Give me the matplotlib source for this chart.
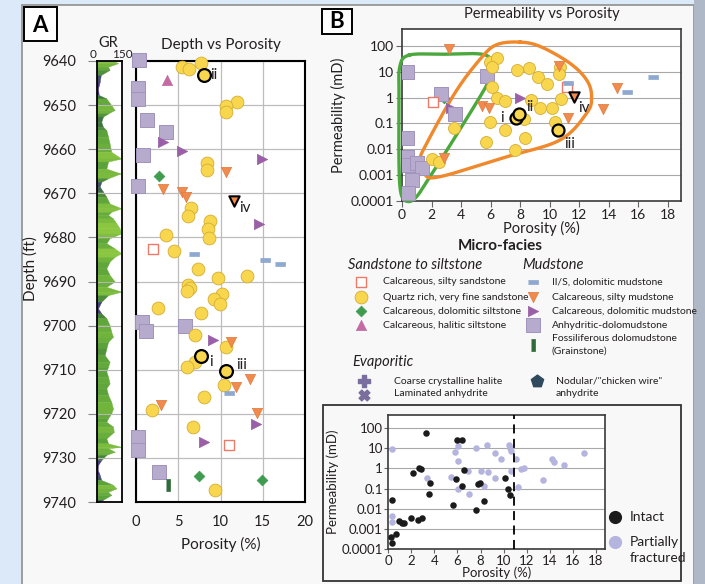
import numpy as np
import matplotlib.pyplot as plt
from matplotlib.colors import LinearSegmentedColormap, Normalize
from matplotlib.patches import Rectangle

plt.rcParams['font.family'] = ['Lato', 'DejaVu Sans']
INK = '#231f20'
plt.rcParams['text.color'] = INK
plt.rcParams['axes.labelcolor'] = INK
plt.rcParams['xtick.color'] = INK
plt.rcParams['ytick.color'] = INK

# ---------------- data: panel A (porosity %, depth ft) ----------------
A_quartz_por = [5.5, 6.3, 7.65, 11.9, 10.7, 10.7, 8.4, 8.4, 6.5, 6.1, 8.8, 8.5, 8.6, 3.5, 4.5, 7.3, 9.7,
                13.1, 6.15, 6.4, 6.0, 10.2, 9.2, 9.9, 2.6, 7.65, 7.0, 10.7, 7.0, 6.0, 10.4, 8.0, 1.9, 6.8, 9.3]
A_quartz_dep = [9641.4, 9641.8, 9640.5, 9649.4, 9650.2, 9651.6, 9663.2, 9664.7, 9673.4, 9675.1, 9676.3,
                9678.2, 9680.1, 9679.4, 9683.1, 9687.2, 9689.2, 9688.8, 9690.8, 9691.4, 9692.1, 9692.9,
                9694.0, 9695.2, 9696.1, 9697.1, 9702.1, 9704.8, 9708.3, 9709.3, 9713.5, 9716.1, 9719.2,
                9723.1, 9737.2]
A_hl_labels = ['ii', 'i', 'iii']
A_hl_por = [8.0, 7.7, 10.65]
A_hl_dep = [9643.2, 9707.0, 9710.2]
A_sst_por = [2.05, 11.0]
A_sst_dep = [9682.6, 9727.1]
A_dolsilt_por = [2.7, 7.4, 14.9]
A_dolsilt_dep = [9666.0, 9734.2, 9735.0]
A_halsilt_por = [3.7]
A_halsilt_dep = [9644.4]
A_ils_por = [6.9, 15.3, 17.1, 11.0]
A_ils_dep = [9683.8, 9685.2, 9686.0, 9715.2]
A_siltmud_por = [10.6, 3.2, 5.4, 5.9, 11.3, 13.5, 11.8, 2.9, 14.3]
A_siltmud_dep = [9665.1, 9669.1, 9669.6, 9670.8, 9703.8, 9712.1, 9713.9, 9718.0, 9719.9]
A_iv_por = [11.6]
A_iv_dep = [9671.7]
A_dolmud_por = [3.2, 5.4, 14.9, 14.6, 9.15, 14.2, 8.0]
A_dolmud_dep = [9658.3, 9660.3, 9662.2, 9677.0, 9703.3, 9722.2, 9726.3]
A_anh_por = [0.3, 0.2, 0.2, 1.3, 3.6, 0.8, 0.2, 0.7, 1.15, 5.8, 0.25, 0.25, 2.7]
A_anh_dep = [9639.8, 9646.2, 9648.7, 9653.4, 9656.1, 9661.3, 9668.3, 9699.1, 9701.3, 9700.2, 9725.2,
             9728.1, 9733.1]
A_fossil_por = [3.8]
A_fossil_dep = [9736.1]

# GR log (API) read along depth
GR_dep = [9640.0, 9640.5, 9641.3, 9642.0, 9643.2, 9644.7, 9646.2, 9647.7, 9648.5, 9650.0, 9651.1, 9651.9,
          9652.6, 9653.8, 9654.9, 9655.7, 9657.2, 9658.7, 9660.6, 9662.1, 9662.8, 9664.4, 9665.5, 9666.6,
          9667.4, 9668.5, 9669.6, 9670.8, 9672.3, 9673.4, 9674.2, 9674.9, 9675.7, 9676.8, 9677.9, 9679.1,
          9680.2, 9681.3, 9682.5, 9683.6, 9684.4, 9685.5, 9687.0, 9688.5, 9690.0, 9691.2, 9692.3, 9693.1,
          9694.6, 9696.1, 9697.2, 9698.3, 9699.9, 9701.4, 9702.5, 9703.7, 9705.2, 9706.7, 9708.2, 9709.3,
          9710.4, 9711.6, 9713.1, 9714.2, 9715.7, 9717.3, 9718.8, 9719.9, 9721.0, 9721.8, 9722.9, 9724.1,
          9725.6, 9726.7, 9727.5, 9727.8, 9728.6, 9729.3, 9730.5, 9731.6, 9732.7, 9733.9, 9735.0, 9736.1,
          9736.9, 9737.7, 9738.4, 9739.5, 9740.0]
GR_val = [107, 126, 68, 77, 25, 19, 9, 13, 58, 87, 107, 68, 38, 28, 38, 58, 68, 77, 87, 146, 68, 58, 142,
          68, 28, 19, 38, 58, 77, 146, 87, 68, 97, 117, 136, 146, 77, 58, 107, 146, 107, 77, 58, 77, 107,
          58, 146, 68, 28, 9, 28, 58, 77, 87, 97, 68, 58, 48, 77, 68, 58, 68, 77, 58, 68, 87, 97, 87, 68,
          58, 97, 102, 58, 68, 146, 68, 107, 58, 28, 9, 7, 19, 28, 97, 117, 68, 87, 38, 9]

# ---------------- data: panel B (porosity %, permeability mD) ----------------
B_quartz_por = [5.95, 6.4, 6.07, 6.07, 6.4, 6.97, 5.96, 6.94, 5.7, 7.65, 7.76, 8.6, 9.22, 9.79, 10.7,
                10.6, 10.74, 9.34, 10.17, 8.7, 8.28, 10.35, 8.3, 3.5, 2.0, 2.52]
B_quartz_k = [25, 33, 16, 2.6, 1.0, 0.75, 0.11, 0.056, 0.02, 0.0093, 11.8, 14.5, 6.5, 3.3, 16, 8.3, 0.89,
              0.39, 0.39, 0.81, 0.15, 0.11, 0.027, 0.065, 0.0043, 0.0033]
B_hl_labels = ['i', 'ii', 'iii']
B_hl_por = [7.7, 7.9, 10.58]
B_hl_k = [0.17, 0.24, 0.056]
B_sst_por = [2.12, 11.14]
B_sst_k = [0.66, 2.7]
B_dolsilt_por = [2.84]
B_dolsilt_k = [0.95]
B_ils_por = [11.2, 15.24, 16.96]
B_ils_k = [3.8, 1.7, 6.5]
B_siltmud_por = [3.16, 5.43, 5.9, 2.86, 10.6, 11.25, 13.58, 14.52]
B_siltmud_k = [74, 0.48, 0.39, 0.0045, 17, 0.16, 0.36, 2.3]
B_iv_por = [11.64]
B_iv_k = [1.1]
B_dolmud_por = [7.98, 3.3]
B_dolmud_k = [1.0, 0.4]
B_anh_por = [0.32, 5.77, 2.64, 3.59, 0.32, 0.34, 0.41, 1.0, 1.35, 0.68, 0.41]
B_anh_k = [10, 7, 1.4, 0.24, 0.028, 0.005, 0.0025, 0.003, 0.0019, 0.00065, 0.0002]

# outlines drawn by hand around groups (porosity, log10 k)
green_hull = [(0.5, 1.65), (2.7, 1.68), (5.1, 1.7), (5.95, 1.55), (6.2, 1.2), (5.7, 0.45),
              (3.47, -1.64), (1.89, -3.06), (0.99, -3.83), (0.4, -4.02), (-0.05, -3.75), (-0.2, -2.67),
              (-0.2, -0.09), (-0.15, 1.2)]
orange_hull = [(8.0, 2.15), (9.4, 1.97), (11.37, 1.33), (12.5, 0.68), (12.83, 0.04), (12.5, -0.6),
               (10.69, -1.64), (7.08, -2.29), (2.57, -3.06), (1.5, -2.95), (1.22, -2.41), (1.67, -1.77),
               (3.6, 0.2), (5.3, 1.5), (6.4, 2.05)]

# ---------------- data: panel C ----------------
C_intact_por = [3.24, 5.93, 6.4, 6.54, 2.66, 2.83, 2.17, 3.59, 3.53, 5.88, 6.37, 7.81, 7.93, 10.13, 10.36,
                10.59, 8.31, 5.64, 7.64, 0.32, 0.9, 1.16, 1.36, 2.0, 2.6, 2.92, 0.69, 0.23, 0.35]
C_intact_k = [59, 26, 26, 0.85, 1.0, 0.9, 0.61, 0.2, 0.056, 0.31, 0.13, 0.17, 0.19, 0.32, 0.095, 0.048,
              0.024, 0.016, 0.0083, 0.026, 0.0025, 0.0019, 0.0019, 0.0035, 0.0028, 0.0033, 0.00057,
              0.00038, 0.00019]
C_frac_por = [0.29, 5.79, 6.07, 6.05, 7.64, 8.57, 9.24, 9.78, 10.5, 10.6, 10.65, 11.09, 10.65, 11.52,
              11.75, 11.28, 13.45, 14.21, 14.4, 15.25, 16.99, 3.33, 5.44, 6.92, 8.07, 8.68, 9.29, 6.02,
              8.33, 6.98, 0.35, 0.29]
C_frac_k = [9, 6.4, 13, 2.3, 10.5, 14, 6.2, 2.9, 15, 10, 7.6, 3.0, 0.76, 0.98, 1.1, 0.12, 0.28, 3.1, 2.0,
            1.5, 5.8, 0.34, 0.39, 0.73, 0.78, 0.65, 0.32, 0.095, 0.13, 0.052, 0.0042, 0.0022]
C_cutoff = 10.9

# ---------------- styles ----------------
dash = [(-1, -0.32), (1, -0.32), (1, 0.32), (-1, 0.32)]
vbar = [(-0.3, -1), (0.3, -1), (0.3, 1), (-0.3, 1)]
ST = {
    'sst': dict(marker='s', facecolor='white', edgecolor='#ec7a68', s=55, linewidths=1.0),
    'quartz': dict(marker='o', facecolor='#f8d64e', edgecolor='#d4ae34', s=85, linewidths=0.6),
    'dolsilt': dict(marker='D', facecolor='#3f9b50', edgecolor='#3f9b50', s=30, linewidths=0.5),
    'halsilt': dict(marker='^', facecolor='#c46ba4', edgecolor='#c46ba4', s=55, linewidths=0.5),
    'ils': dict(marker=dash, facecolor='#8ea8d0', edgecolor='#8ea8d0', s=60, linewidths=0.5),
    'siltmud': dict(marker='v', facecolor='#f08a4d', edgecolor='#e07a3d', s=55, linewidths=0.5),
    'dolmud': dict(marker='>', facecolor='#9a5fa6', edgecolor='#9a5fa6', s=55, linewidths=0.5),
    'anh': dict(marker='s', facecolor='#b6abcc', edgecolor='#a093bd', s=95, linewidths=0.7),
    'fossil': dict(marker=vbar, facecolor='#2f6b38', edgecolor='#2f6b38', s=70, linewidths=0.5),
}

W, H = 705, 584
fig = plt.figure(figsize=(W / 100, H / 100), dpi=100, facecolor='#dce9f8')


def pax(x0, y0, x1, y1, **kw):
    return fig.add_axes([x0 / W, 1 - y1 / H, (x1 - x0) / W, (y1 - y0) / H], **kw)


def closed_curve(pts, yscale=1.75, n=30):
    # smooth closed Catmull-Rom curve, computed in roughly isotropic screen proportions
    P = np.array(pts, dtype=float)
    P[:, 1] *= yscale
    N = len(P)
    t = np.linspace(0, 1, n, endpoint=False)[:, None]
    segs = []
    for i in range(N):
        p0, p1, p2, p3 = P[i - 1], P[i], P[(i + 1) % N], P[(i + 2) % N]
        segs.append(0.5 * (2 * p1 + (-p0 + p2) * t + (2 * p0 - 5 * p1 + 4 * p2 - p3) * t ** 2
                           + (-p0 + 3 * p1 - 3 * p2 + p3) * t ** 3))
    c = np.vstack(segs + [segs[0][:1]])
    return c[:, 0], c[:, 1] / yscale


# background / frames
bg = pax(0, 0, W, H)
bg.set_xlim(0, W)
bg.set_ylim(H, 0)
bg.axis('off')
bg.add_patch(Rectangle((22, 5), 672, 600, fc='#f8f8f8', ec='#8f8f8f', lw=1.2))
bg.add_patch(Rectangle((694, 0), 11, H, fc='#aeb8c6', ec='none'))
bg.add_patch(Rectangle((23.5, 7), 33, 34, fc='white', ec='black', lw=1.4))
bg.text(40, 25, 'A', ha='center', va='center', fontsize=16, fontweight='bold', color='black')
bg.add_patch(Rectangle((322, 9), 30, 25, fc='white', ec='black', lw=1.4))
bg.text(337, 22, 'B', ha='center', va='center', fontsize=16, fontweight='bold', color='black')
bg.add_patch(Rectangle((323, 405), 358, 176, fc='none', ec='#333333', lw=1.3))

# ---------------- GR track ----------------
gax = pax(96.5, 61, 122, 502)
gax.set_facecolor('white')
cmap = LinearSegmentedColormap.from_list(
    'gr', [(0, '#3a2270'), (0.12, '#463689'), (0.25, '#3f7540'), (0.5, '#5ea53a'), (1, '#8cc83f')])
norm = Normalize(0, 130)
for i in range(len(GR_dep) - 1):
    c = cmap(norm((GR_val[i] + GR_val[i + 1]) / 2))
    gax.fill_betweenx([GR_dep[i], GR_dep[i + 1]], 0, [GR_val[i], GR_val[i + 1]], color=c, lw=0.3, ec=c)
gax.set_xlim(0, 150)
gax.set_ylim(9740, 9640)
gax.set_yticks(np.arange(9640, 9741, 10))
gax.set_xticks([])
gax.grid(axis='y', color='#b5b5b5', lw=0.8)
gax.tick_params(axis='y', direction='out', length=6.5, width=0.8, pad=8, labelsize=10.5, color='#888888')
for s in gax.spines.values():
    s.set_linewidth(1.3)
gax.set_ylabel('Depth (ft)', fontsize=11, labelpad=2)
gax.yaxis.set_label_coords(-2.3, 0.53)
bg.text(108, 43, 'GR', ha='center', va='center', fontsize=10.5)
bg.text(93, 55, '0', ha='center', va='center', fontsize=8.5)
bg.text(122, 54, '150', ha='center', va='center', fontsize=8.5)

# ---------------- A: depth vs porosity ----------------
ax = pax(136, 61, 305, 502)
ax.set_facecolor('white')
ax.set_xlim(0, 20)
ax.set_ylim(9740, 9640)
ax.set_xticks(np.arange(0, 21, 5))
ax.set_yticks(np.arange(9640, 9741, 10))
ax.tick_params(axis='x', length=0, pad=9, labelsize=10.5)
ax.tick_params(axis='y', length=0, labelleft=False)
ax.grid(color='#bdbdbd', lw=0.9)
ax.set_axisbelow(True)
for s in ax.spines.values():
    s.set_linewidth(1.5)
ax.set_xlabel('Porosity (%)', fontsize=11, labelpad=6)
ax.set_title('Depth vs Porosity', fontsize=11, pad=9)

ax.scatter(A_anh_por, A_anh_dep, clip_on=False, zorder=3, **ST['anh'])
ax.scatter(A_sst_por, A_sst_dep, zorder=3, **ST['sst'])
ax.scatter(A_quartz_por, A_quartz_dep, zorder=3, clip_on=False, **ST['quartz'])
ax.scatter(A_dolsilt_por, A_dolsilt_dep, zorder=3, **ST['dolsilt'])
ax.scatter(A_halsilt_por, A_halsilt_dep, zorder=3, **ST['halsilt'])
ax.scatter(A_ils_por, A_ils_dep, zorder=3, **ST['ils'])
ax.scatter(A_siltmud_por, A_siltmud_dep, zorder=3, **ST['siltmud'])
ax.scatter(A_dolmud_por, A_dolmud_dep, zorder=3, **ST['dolmud'])
ax.scatter(A_fossil_por, A_fossil_dep, zorder=3, **ST['fossil'])
hl = dict(ST['quartz'], edgecolor='black', linewidths=1.6)
ax.scatter(A_hl_por, A_hl_dep, zorder=4, **hl)
ax.scatter(A_iv_por, A_iv_dep, zorder=4, **dict(ST['siltmud'], edgecolor='black', linewidths=1.5))
for lab, x, y, off in zip(A_hl_labels, A_hl_por, A_hl_dep, [(5, 0), (6, -4), (7, 4)]):
    ax.annotate(lab, (x, y), xytext=off, textcoords='offset points', fontsize=11, va='center')
ax.annotate('iv', (A_iv_por[0], A_iv_dep[0]), xytext=(4, -5), textcoords='offset points', fontsize=11,
            va='center')

# ---------------- B: permeability vs porosity ----------------
bx = pax(402, 29, 681, 201)
bx.set_facecolor('white')
bx.set_yscale('log')
bx.set_xlim(0, 18.88)
bx.set_ylim(1e-4, 455)
kt = [1e-4, 1e-3, 1e-2, 1e-1, 1, 10, 100]
kl = ['0.0001', '0.001', '0.01', '0.1', '1', '10', '100']
bx.set_yticks(kt)
bx.set_yticklabels(kl)
bx.minorticks_off()
bx.set_xticks(np.arange(0, 19, 2))
bx.tick_params(direction='out', length=4, width=0.8, labelsize=10, pad=2, color='#666666')
bx.grid(axis='y', color='#a8a8a8', lw=0.8)
bx.set_axisbelow(True)
for s in bx.spines.values():
    s.set_linewidth(1.2)
    s.set_color('#3a3a3a')
bx.set_xlabel('Porosity (%)', fontsize=10.5, labelpad=0)
bx.set_ylabel('Permeability (mD)', fontsize=10.5, labelpad=3)
bx.set_title('Permeability vs Porosity', fontsize=10.5, pad=8)

gx, gy = closed_curve(green_hull)
bx.plot(gx, 10 ** gy, color='#4aa83c', lw=2.4, zorder=2.8, clip_on=False)
ox, oy = closed_curve(orange_hull)
bx.plot(ox, 10 ** oy, color='#f0892c', lw=2.4, zorder=2.8, clip_on=False)
bx.scatter(B_anh_por, B_anh_k, zorder=3, **dict(ST['anh'], s=105))
bx.scatter(B_sst_por, B_sst_k, zorder=3, **ST['sst'])
bx.scatter(B_dolsilt_por, B_dolsilt_k, zorder=2.9, **ST['dolsilt'])
bx.scatter(B_dolmud_por, B_dolmud_k, zorder=2.9, **ST['dolmud'])
bx.scatter(B_quartz_por, B_quartz_k, zorder=3, **dict(ST['quartz'], s=75))
bx.scatter(B_siltmud_por, B_siltmud_k, zorder=3, **ST['siltmud'])
bx.scatter(B_ils_por, B_ils_k, zorder=3, **ST['ils'])
bx.scatter(B_hl_por, B_hl_k, zorder=4, **dict(hl, s=75))
bx.scatter(B_iv_por, B_iv_k, zorder=4, **dict(ST['siltmud'], edgecolor='black', linewidths=1.5))
for lab, x, y, off in zip(B_hl_labels, B_hl_por, B_hl_k, [(-11, 0), (5, 5), (4, -10)]):
    bx.annotate(lab, (x, y), xytext=off, textcoords='offset points', fontsize=11, va='center', zorder=6)
bx.annotate('iv', (B_iv_por[0], B_iv_k[0]), xytext=(3, -8), textcoords='offset points', fontsize=11,
            va='center', zorder=6)

# ---------------- legend (micro-facies) ----------------
bg.text(500, 246, 'Micro-facies', ha='center', va='center', fontsize=11, fontweight='bold')
bg.text(348, 265, 'Sandstone to siltstone', ha='left', va='center', fontsize=10.5, style='italic')
bg.text(522, 265, 'Mudstone', ha='left', va='center', fontsize=10.5, style='italic')
bg.text(352, 362, 'Evaporitic', ha='left', va='center', fontsize=10.5, style='italic')
left_items = [('sst', 'Calcareous, silty sandstone'), ('quartz', 'Quartz rich, very fine sandstone'),
              ('dolsilt', 'Calcareous, dolomitic siltstone'), ('halsilt', 'Calcareous, halitic siltstone')]
right_items = [('ils', 'Il/S, dolomitic mudstone'), ('siltmud', 'Calcareous, silty mudstone'),
               ('dolmud', 'Calcareous, dolomitic mudstone'), ('anh', 'Anhydritic-dolomudstone'),
               ('fossil', 'Fossiliferous dolomudstone\n(Grainstone)')]
rows = [282, 297, 311, 325, 345]
for (key, lab), y in zip(left_items, rows):
    bg.scatter([361], [y], **ST[key])
    bg.text(383, y, lab, ha='left', va='center', fontsize=7.5)
for (key, lab), y in zip(right_items, rows):
    bg.scatter([533], [y], **ST[key])
    bg.text(552, y, lab, ha='left', va='center', fontsize=7.5, linespacing=1.5)
bg.scatter([364], [381], marker='P', s=70, color='#7a6e9e')
bg.scatter([364], [395], marker='X', s=60, color='#7a6e9e')
bg.scatter([537], [381], marker='p', s=85, color='#2f4a5e')
bg.text(394, 381, 'Coarse crystalline halite', ha='left', va='center', fontsize=7.5)
bg.text(394, 394, 'Laminated anhydrite', ha='left', va='center', fontsize=7.5)
bg.text(556, 381, 'Nodular/"chicken wire"', ha='left', va='center', fontsize=7.5)
bg.text(556, 394, 'anhydrite', ha='left', va='center', fontsize=7.5)

# ---------------- C: intact vs fractured ----------------
cx = pax(388.3, 415, 605, 549)
cx.set_facecolor('white')
cx.set_yscale('log')
cx.set_xlim(0, 18.8)
cx.set_ylim(1e-4, 455)
cx.set_yticks(kt)
cx.set_yticklabels(kl)
cx.minorticks_off()
cx.set_xticks(np.arange(0, 19, 2))
cx.tick_params(direction='out', length=3, width=0.8, labelsize=9.5, pad=1, color='#666666')
cx.grid(axis='y', color='#a8a8a8', lw=0.8)
cx.set_axisbelow(True)
for s in cx.spines.values():
    s.set_linewidth(1.2)
    s.set_color('#3a3a3a')
cx.set_xlabel('Porosity (%)', fontsize=9.5, labelpad=0)
cx.set_ylabel('Permeability (mD)', fontsize=9.5, labelpad=2)
cx.scatter(C_frac_por, C_frac_k, s=22, color='#b4b4de', lw=0, zorder=3)
cx.scatter(C_intact_por, C_intact_k, s=22, color='#1b1b1b', lw=0, zorder=3)
cx.axvline(C_cutoff, color='black', lw=1.3, dashes=(5, 3), zorder=4)
bg.scatter([615], [517], s=90, color='#1b1b1b', lw=0)
bg.scatter([615], [542], s=90, color='#b4b4de', lw=0)
bg.text(630, 517, 'Intact', ha='left', va='center', fontsize=10)
bg.text(630, 550, 'Partially\nfractured', ha='left', va='center', fontsize=10, linespacing=1.3)

fig.savefig('out.png', dpi=100, facecolor=fig.get_facecolor())
